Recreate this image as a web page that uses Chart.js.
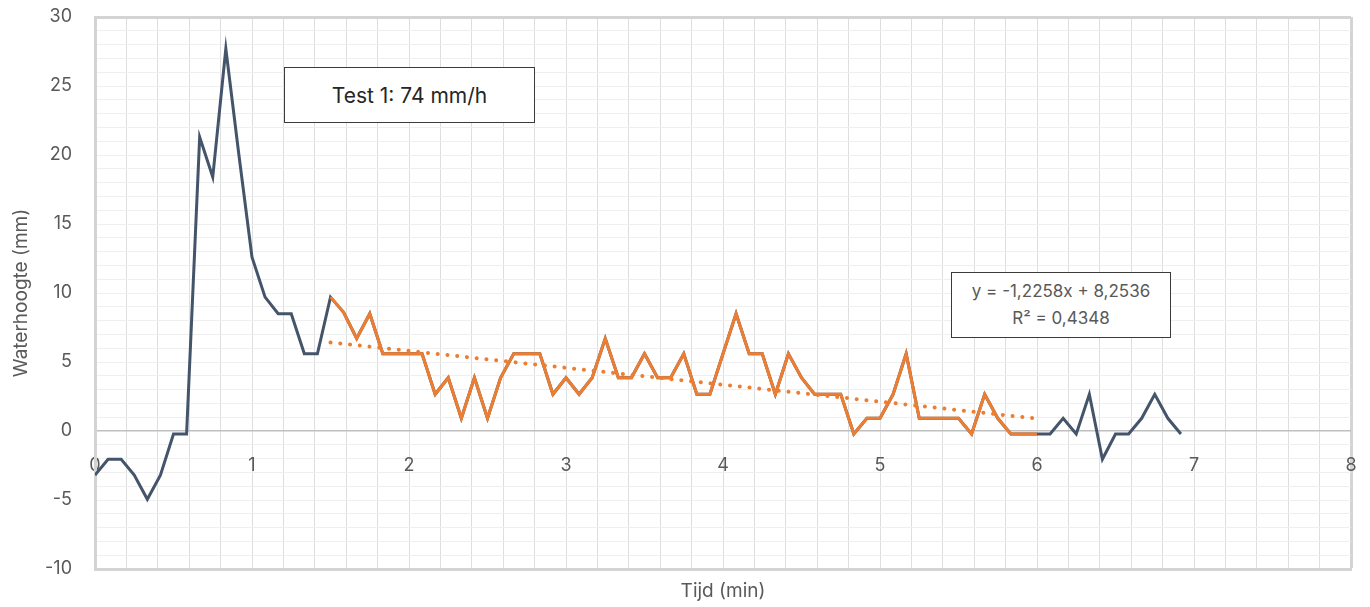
<!DOCTYPE html>
<html>
<head>
<meta charset="utf-8">
<script src="https://cdn.jsdelivr.net/npm/chart.js@4"></script>
<style>
  body { margin: 0; background: #fff; }
  #wrap { position: relative; width: 1370px; height: 607px; }
  .box {
    position: absolute; box-sizing: border-box; background: #fff;
    border: 1.5px solid #3a3a3a; font-family: Inter, "Open Sans", sans-serif;
    display: flex; flex-direction: column; justify-content: center; align-items: center;
  }
  #titel { left: 284px; top: 67px; width: 251px; height: 56px; font-size: 21px; color: #262626; }
  #vergelijking { left: 951px; top: 272px; width: 220px; height: 66px; font-size: 17px; color: #595959; line-height: 27px; }
</style>
</head>
<body>
<div id="wrap">
  <canvas id="grafiek" width="1370" height="607"></canvas>
  <div class="box" id="titel">Test 1: 74 mm/h</div>
  <div class="box" id="vergelijking"><div>y = -1,2258x + 8,2536</div><div>R² = 0,4348</div></div>
</div>
<script>
// meetmomenten in seconden (elke 5 s)
const tijdSec = [0, 5, 10, 15, 20, 25, 30, 35, 40, 45, 50, 55, 60, 65, 70, 75, 80, 85, 90, 95,
  100, 105, 110, 115, 120, 125, 130, 135, 140, 145, 150, 155, 160, 165, 170, 175, 180, 185, 190, 195,
  200, 205, 210, 215, 220, 225, 230, 235, 240, 245, 250, 255, 260, 265, 270, 275, 280, 285, 290, 295,
  300, 305, 310, 315, 320, 325, 330, 335, 340, 345, 350, 355, 360, 365, 370, 375, 380, 385, 390, 395,
  400, 405, 410, 415];

// waterhoogte in mm
const waterhoogte = [-3.2, -2.05, -2.05, -3.2, -4.95, -3.2, -0.22, -0.22, 21.3, 18.4,
  27.7, 20.0, 12.6, 9.7, 8.5, 8.5, 5.6, 5.6, 9.7, 8.6,
  6.7, 8.5, 5.6, 5.6, 5.6, 5.6, 2.66, 3.86, 0.92, 3.86,
  0.92, 3.86, 5.6, 5.6, 5.6, 2.66, 3.86, 2.66, 3.86, 6.7,
  3.86, 3.86, 5.6, 3.86, 3.86, 5.6, 2.66, 2.66, 5.6, 8.5,
  5.6, 5.6, 2.66, 5.6, 3.86, 2.66, 2.66, 2.66, -0.22, 0.92,
  0.92, 2.66, 5.6, 0.92, 0.92, 0.92, 0.92, -0.22, 2.66, 0.92,
  -0.22, -0.22, -0.22, -0.22, 0.92, -0.22, 2.66, -2.05, -0.22, -0.22,
  0.92, 2.66, 0.92, -0.22];

// deel van de meting dat voor de trendlijn is gebruikt (seconden)
const trendVan = 90;
const trendTot = 360;

const trendX = [1.5, 6.0];
const trendY = [6.42, 0.90];

const xTicks = [0, 1, 2, 3, 4, 5, 6, 7, 8];
const yTicks = [-10, -5, 0, 5, 10, 15, 20, 25, 30];

const punten = tijdSec.map((s, i) => ({ x: s / 60, y: waterhoogte[i] }));
const puntenTrend = tijdSec
  .map((s, i) => ({ s, x: s / 60, y: waterhoogte[i] }))
  .filter(p => p.s >= trendVan && p.s <= trendTot);
const trendLijn = trendX.map((x, i) => ({ x, y: trendY[i] }));

const tekstKleur = '#595959';
const font = 'Inter, "Open Sans", sans-serif';

// geen extra ruimte rond de as voor uitstekende labels
function geenPadding(s) {
  s.paddingLeft = 0;
  s.paddingRight = 0;
  s.paddingTop = 0;
  s.paddingBottom = 0;
}

new Chart(document.getElementById('grafiek'), {
  type: 'line',
  data: {
    datasets: [
      {
        data: trendLijn,
        borderColor: '#ED7D31',
        borderWidth: 4,
        borderDash: [0.1, 9.7],
        borderCapStyle: 'round',
        pointRadius: 0,
        order: 1
      },
      {
        data: puntenTrend,
        borderColor: '#ED7D31',
        borderWidth: 3,
        pointRadius: 0,
        order: 2
      },
      {
        data: punten,
        borderColor: '#44546A',
        borderWidth: 3,
        pointRadius: 0,
        order: 3
      }
    ]
  },
  options: {
    responsive: false,
    animation: false,
    layout: { padding: { top: 17, right: 19, left: 0, bottom: 0 } },
    plugins: { legend: { display: false }, tooltip: { enabled: false } },
    scales: {
      x: {
        type: 'linear',
        min: 0,
        max: 8,
        ticks: { display: false, stepSize: 0.2 },
        grid: {
          drawTicks: false,
          color: c => Math.abs(c.tick.value - 8) < 1e-6 ? '#d4d4d4' : '#dedede',
          lineWidth: c => Math.abs(c.tick.value - 8) < 1e-6 ? 3 : 1
        },
        border: { color: '#d4d4d4', width: 3 },
        title: {
          display: true,
          text: 'Tijd (min)',
          color: tekstKleur,
          font: { family: font, size: 19 },
          padding: { top: 0, bottom: 4 }
        },
        afterFit: s => { s.height = 38; geenPadding(s); }
      },
      xt: {
        type: 'linear',
        axis: 'x',
        position: { y: 0 },
        min: 0,
        max: 8,
        afterBuildTicks: s => { s.ticks = xTicks.map(v => ({ value: v })); },
        ticks: { color: tekstKleur, font: { family: font, size: 18 }, padding: 24, autoSkip: false, maxRotation: 0 },
        grid: { display: false, drawTicks: false },
        border: { display: false },
        afterFit: geenPadding
      },
      y: {
        min: -10,
        max: 30,
        ticks: {
          stepSize: 1,
          autoSkip: false,
          color: tekstKleur,
          font: { family: font, size: 18 },
          padding: 23,
          callback: v => yTicks.includes(v) ? String(v) : ''
        },
        grid: {
          drawTicks: false,
          color: c => c.tick.value === 0 ? '#bfbfbf' : (c.tick.value === 30 ? '#d4d4d4' : '#efefef'),
          lineWidth: c => c.tick.value === 0 ? 1.5 : (c.tick.value === 30 ? 3 : 1)
        },
        border: { color: '#d4d4d4', width: 3 },
        title: {
          display: true,
          text: 'Waterhoogte (mm)',
          color: tekstKleur,
          font: { family: font, size: 19 },
          padding: { top: 10, bottom: 0 }
        },
        afterFit: s => { s.width = 95; geenPadding(s); }
      }
    }
  }
});
</script>
</body>
</html>
